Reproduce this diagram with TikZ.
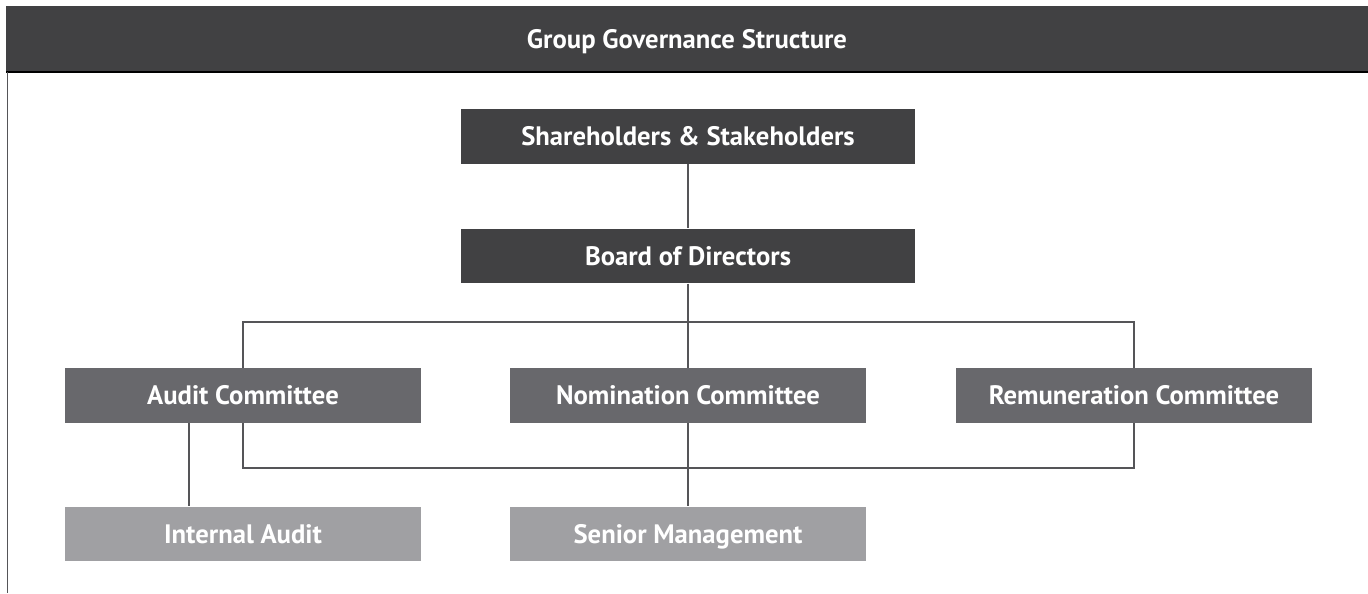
\documentclass[tikz,border=0pt]{standalone}
\usepackage{fontspec}
\setmainfont{PT Sans}
\usepackage{xcolor}
\usepackage{tikz}
\definecolor{Gov-Dark}{RGB}{ 65,  65,  67}
\definecolor{Gov-Mid}{RGB}{104, 104, 108}
\definecolor{Gov-Light}{RGB}{160, 160, 163}
\definecolor{Gov-Line}{RGB}{ 85,  85,  88}
\tikzstyle{box}=[rectangle,draw=none,text=white,font=\bfseries\fontsize{20}{24}\selectfont,inner sep=0pt,minimum height=41pt,text height=15pt,text depth=1pt]
\tikzstyle{box top}=[box,fill=Gov-Dark,minimum width=340.5pt]
\tikzstyle{box committee}=[box,fill=Gov-Mid,minimum width=267pt]
\tikzstyle{box staff}=[box,fill=Gov-Light,minimum width=267pt]
\tikzstyle{link}=[draw=Gov-Line,line width=1.1pt]

\begin{document}
\begin{tikzpicture}[x=0.75pt,y=-0.75pt]

    \useasboundingbox (0,0) rectangle (1368,593);

    % title bar and frame
    \fill[Gov-Dark] (6,6) rectangle (1368,72);
    \draw[black,line width=1.3pt] (6,72) -- (1368,72);
    \draw[Gov-Line,line width=1pt] (7.5,72) -- (7.5,593);
    \node[box] (title) at (687,39) {Group Governance Structure};

    \node[box top]       (holders) at   (688, 136.5) {Shareholders \& Stakeholders};
    \node[box top]       (board) at     (688, 256)   {Board of Directors};

    \node[box committee] (audit) at     (243, 395.5) {Audit Committee};
    \node[box committee] (nomination) at(688, 395.5) {Nomination Committee};
    \node[box committee] (remuneration) at (1134, 395.5) {Remuneration Committee};

    \node[box staff]     (internal) at  (243, 534)   {Internal Audit};
    \node[box staff]     (senior) at    (688, 534)   {Senior Management};

    \coordinate (upper bus) at (688, 322);
    \coordinate (lower bus) at (688, 468);

    \draw[link]
      (holders)    -- (board)
      (board)      -- (nomination)
      (nomination) -- (senior)
      (audit.north) |- (upper bus) -| (remuneration.north)
      (audit.south) |- (lower bus) -| (remuneration.south)
      (audit.207)  -- (audit.207 |- internal.north);

  \end{tikzpicture}
\end{document}
